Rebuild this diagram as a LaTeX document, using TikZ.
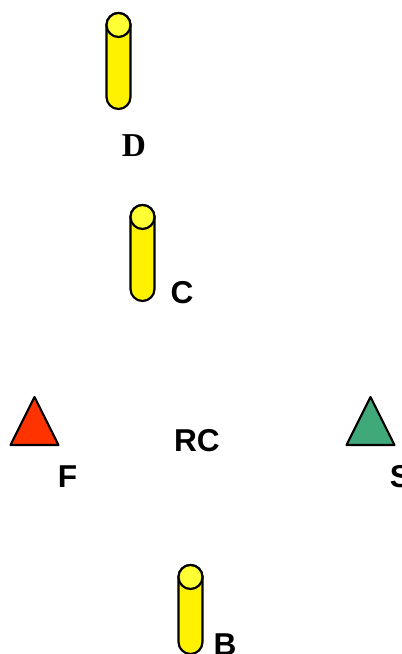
\documentclass[tikz,border=0pt]{standalone}
\usepackage{fontspec}
\setmainfont{Liberation Sans}
\newfontfamily\labelserif{Liberation Serif}
\definecolor{rodtop}{HTML}{FFFF33}
\definecolor{flagred}{HTML}{FF3300}
\definecolor{flaggreen}{HTML}{3FA97A}

\begin{document}
\begin{tikzpicture}[x=0.02cm,y=0.02cm,
        outline/.style = {draw=black,line width=0.044cm,line join=round},
        lab/.style = {inner sep=0pt,font=\fontsize{18}{18}\selectfont\bfseries},
        labserif/.style = {inner sep=0pt,font=\labelserif\fontsize{19}{19}\selectfont\bfseries}]

        \useasboundingbox (0,0) rectangle (402,654);
        \clip (0,0) rectangle (402,654);

        % Rods
        \foreach \rodx/\rodtopy/\rodlen in {118.5/629/72, 142.5/437/72, 190.5/77/65}{
            \draw[outline,fill=yellow] (\rodx-12,\rodtopy) -- (\rodx-12,\rodtopy-\rodlen)
                arc(180:360:12) -- (\rodx+12,\rodtopy) arc(0:180:12) -- cycle;
            \draw[outline,fill=rodtop] (\rodx,\rodtopy) circle(12);
        }

        % Triangles
        \draw[outline,fill=flagred] (34.5,257) -- (58.5,209) -- (10.5,209) -- cycle;
        \draw[outline,fill=flaggreen] (370.5,257) -- (394.5,209) -- (346.5,209) -- cycle;

        % Labels
        \node[labserif] (labD) at (134,508.5) {D};
        \node[lab] (labC) at (182,361) {C};
        \node[lab] (labRC) at (197,213.5) {RC};
        \node[lab] (labF) at (67.5,177) {F};
        \node[lab] (labS) at (400.5,177) {S};
        \node[lab] (labB) at (225,9) {B};

    \end{tikzpicture}
\end{document}
